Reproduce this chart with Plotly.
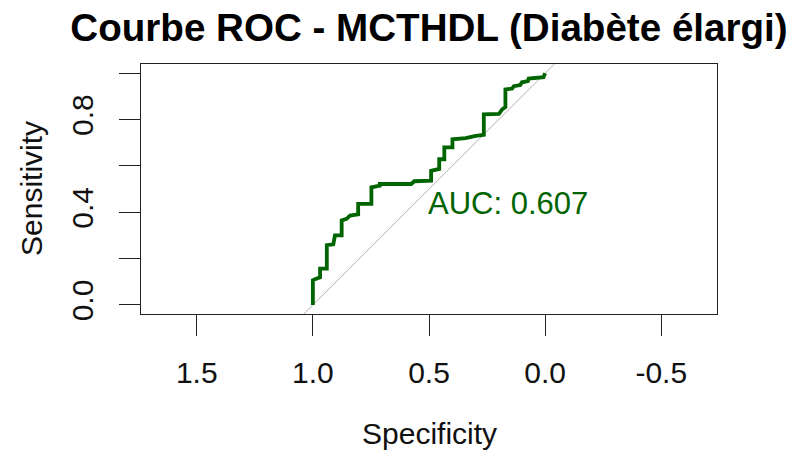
import plotly.graph_objects as go

# ROC curve points (specificity, sensitivity)
specificity = [1.000, 1.000, 0.986, 0.969, 0.969, 0.940, 0.940, 0.912, 0.905, 0.876,
               0.876, 0.855, 0.840, 0.805, 0.805, 0.748, 0.748, 0.712, 0.712, 0.577,
               0.563, 0.491, 0.491, 0.456, 0.456, 0.434, 0.434, 0.399, 0.399, 0.342,
               0.299, 0.264, 0.264, 0.199, 0.185, 0.171, 0.171, 0.142, 0.135, 0.107,
               0.100, 0.074, 0.071, 0.007, 0.000]
sensitivity = [0.000, 0.107, 0.113, 0.119, 0.157, 0.157, 0.258, 0.262, 0.300, 0.300,
               0.365, 0.372, 0.386, 0.391, 0.436, 0.436, 0.508, 0.515, 0.522, 0.522,
               0.534, 0.536, 0.579, 0.587, 0.629, 0.629, 0.680, 0.680, 0.715, 0.720,
               0.730, 0.734, 0.823, 0.825, 0.844, 0.854, 0.930, 0.934, 0.944, 0.949,
               0.961, 0.966, 0.977, 0.983, 1.000]
diag_spec = [1.2, -0.2]
diag_sens = [-0.2, 1.2]
auc_value = 0.607
x_ticks = [1.5, 1.0, 0.5, 0.0, -0.5]
x_tick_labels = ["1.5", "1.0", "0.5", "0.0", "-0.5"]
y_ticks = [0.0, 0.2, 0.4, 0.6, 0.8, 1.0]
y_tick_labels = ["0.0", "", "0.4", "", "0.8", ""]

FONT = "Liberation Sans, Arial, sans-serif"
W, H = 794, 451
L, R, T, B = 141, 77, 64, 137

fig = go.Figure()
fig.add_trace(go.Scatter(x=diag_spec, y=diag_sens, mode="lines",
                         line=dict(color="#b0b0b0", width=1), hoverinfo="skip"))
fig.add_trace(go.Scatter(x=specificity, y=sensitivity, mode="lines",
                         line=dict(color="#006400", width=3.8)))

fig.update_layout(
    width=W, height=H,
    margin=dict(l=L, r=R, t=T, b=B),
    paper_bgcolor="white", plot_bgcolor="white",
    showlegend=False,
    font=dict(family=FONT, size=30, color="#111"),
    title=dict(text="<b>Courbe ROC - MCTHDL (Diabète élargi)</b>",
               font=dict(family=FONT, size=38.6, color="#000"),
               xref="paper", x=0.5, xanchor="center",
               yref="container", y=1 - 27 / H, yanchor="middle"),
)
fig.update_xaxes(range=[1.74, -0.74], tickvals=x_ticks, ticktext=x_tick_labels,
                 showgrid=False, zeroline=False, showline=True, mirror=True,
                 linecolor="#222", linewidth=1, ticks="outside", ticklen=21,
                 tickcolor="#222", tickwidth=1, ticklabelstandoff=11,
                 tickfont=dict(size=30, family=FONT, color="#111"))
fig.update_yaxes(range=[-0.039, 1.04], tickvals=y_ticks, ticktext=y_tick_labels,
                 showgrid=False, zeroline=False, showline=True, mirror=True,
                 linecolor="#222", linewidth=1, ticks="outside", ticklen=21,
                 tickcolor="#222", tickwidth=1, tickangle=-90, ticklabelstandoff=14,
                 tickfont=dict(size=30, family=FONT, color="#111"))

fig.add_annotation(text="Specificity", xref="paper", yref="paper", x=0.5, y=0,
                   yanchor="middle", yshift=-119, showarrow=False,
                   font=dict(size=30, family=FONT, color="#111"))
fig.add_annotation(text="Sensitivity", xref="paper", yref="paper", x=0, y=0.5,
                   xanchor="center", xshift=-(L - 31), textangle=-90, showarrow=False,
                   font=dict(size=30, family=FONT, color="#111"))
fig.add_annotation(text=f"AUC: {auc_value:.3f}", xref="x", yref="y", x=0.5, y=0.5,
                   xanchor="left", yanchor="top", xshift=-3, yshift=5, showarrow=False,
                   font=dict(size=31, family=FONT, color="#006400"))

fig.write_html("out.html", config={"displayModeBar": False},
               post_script="document.body.style.margin='0';")
